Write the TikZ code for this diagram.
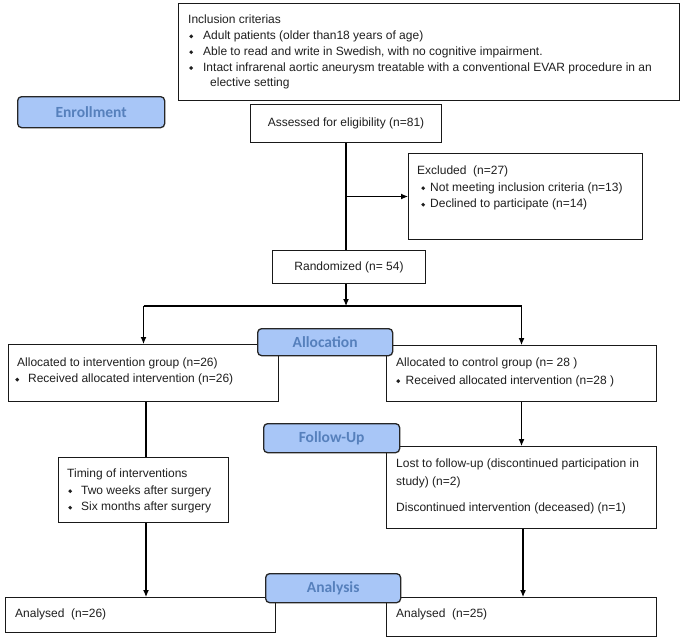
\documentclass[tikz,border=0pt]{standalone}
\usepackage{fontspec}
\setmainfont{Liberation Sans}
\newfontfamily\labfont{Carlito}
\usepackage{graphicx}
\usetikzlibrary{arrows.meta}
\definecolor{labfill}{RGB}{168,198,247}
\definecolor{labtext}{RGB}{86,128,188}
\newcommand{\bul}[2]{\hspace*{#1}\raisebox{1.1pt}{\rotatebox{45}{\rule{2.8pt}{2.8pt}}}\hspace*{#2}}
\begin{document}
\begin{tikzpicture}[x=1pt,y=-1pt,
 box/.style={draw=black!90, line width=1pt, fill=white, inner sep=0pt, anchor=north west, font=\fontsize{12}{14}\selectfont, text=black!88},
 lab/.style={draw=black!85, line width=1.3pt, fill=labfill, rounded corners=4pt, inner sep=0pt, anchor=north west, font=\labfont\bfseries\fontsize{15.5}{18}\selectfont, text=labtext},
 txt/.style={inner sep=0pt, anchor=north west, align=left, text=black!88},
 arr/.style={line width=1.1pt, -{Latex[length=7pt,width=6pt]}},
 ln/.style={line width=1.1pt}]
\useasboundingbox[fill=white] (0,0) rectangle (685,640);

% boxes
\node[box, minimum width=501pt, minimum height=97pt] (incl) at (178,3) {};
\node[box, minimum width=191pt, minimum height=38pt] (assess) at (250,104) {Assessed for eligibility (n=81)};
\node[box, minimum width=234pt, minimum height=86pt] (excl) at (408,153) {};
\node[box, minimum width=153pt, minimum height=33pt] (rand) at (272,250) {Randomized (n= 54)};
\node[box, minimum width=270pt, minimum height=57pt] (allocL) at (8,344) {};
\node[box, minimum width=270pt, minimum height=56pt] (allocR) at (386,345) {};
\node[box, minimum width=170pt, minimum height=65pt] (timing) at (58,457) {};
\node[box, minimum width=270pt, minimum height=82pt] (fuR) at (386,446) {};
\node[box, minimum width=270pt, minimum height=35pt] (anL) at (5,597) {};
\node[box, minimum width=270pt, minimum height=39pt] (anR) at (386,597) {};

% texts
\node[txt, font=\fontsize{12}{15.8}\selectfont] (inclT) at (188,12.4) {\strut Inclusion criterias\\
\bul{1pt}{10pt}Adult patients (older than18 years of age)\\
\bul{1pt}{10pt}Able to read and write in Swedish, with no cognitive impairment.\\
\bul{1pt}{10pt}Intact infrarenal aortic aneurysm treatable with a conventional EVAR procedure in an\\
\hspace*{22pt}elective setting};
\node[txt, font=\fontsize{12}{16.5}\selectfont] (exclT) at (417,163) {\strut Excluded\ \ (n=27)\\
\bul{4pt}{5pt}Not meeting inclusion criteria (n=13)\\
\bul{4pt}{5pt}Declined to participate (n=14)};
\node[txt, font=\fontsize{12}{16}\selectfont] (allocLT) at (17,355.3) {\strut Allocated to intervention group (n=26)\\
\bul{-2pt}{9pt}Received allocated intervention (n=26)};
\node[txt, font=\fontsize{12}{17.5}\selectfont] (allocRT) at (396,354.25) {\strut Allocated to control group (n= 28 )\\
\bul{0pt}{5.5pt}Received allocated intervention (n=28 )};
\node[txt, font=\fontsize{12}{16.5}\selectfont] (timingT) at (67,466) {\strut Timing of interventions\\
\bul{1pt}{9pt}Two weeks after surgery\\
\bul{1pt}{9pt}Six months after surgery};
\node[txt, font=\fontsize{12}{18}\selectfont] (fuRT) at (396,454.9) {\strut Lost to follow-up (discontinued participation in\\
study) (n=2)\\[8pt]
Discontinued intervention (deceased) (n=1)};
\node[txt, anchor=base west, font=\fontsize{12}{14}\selectfont] (anLT) at (15,617.5) {Analysed\ \ (n=26)};
\node[txt, anchor=base west, font=\fontsize{12}{14}\selectfont] (anRT) at (396,617.5) {Analysed\ \ (n=25)};

% connectors
\coordinate (sL) at (allocL.north |- 0,306);
\coordinate (sR) at (allocR.north |- 0,306);
\coordinate (mid) at (346,306);
\draw[ln] (346,0 |- assess.south) coordinate (aS) -- (aS |- rand.north);
\draw[arr] (aS |- excl.west) -- (excl.west);
\draw[arr] (mid |- rand.south) -- (mid);
\draw[ln] (sL) -- (sR);
\draw[arr] (sL) -- (allocL.north);
\draw[arr] (sR) -- (allocR.north);
\draw[ln] (146,0 |- allocL.south) coordinate (lS) -- (lS |- timing.north);
\draw[arr] (lS |- timing.south) -- (lS |- anL.north);
\draw[arr] (allocR.south) -- (fuR.north);
\draw[arr] (523,0 |- fuR.south) coordinate (rS) -- (rS |- anR.north);

% phase labels
\node[lab, minimum width=147pt, minimum height=31pt] (enr) at (17,96) {Enrollment};
\node[lab, minimum width=135pt, minimum height=27pt] (allocLab) at (257,328) {Allocation};
\node[lab, minimum width=136pt, minimum height=29pt] (fuLab) at (263,423) {Follow-Up};
\node[lab, minimum width=135pt, minimum height=29pt] (anLab) at (265,573) {Analysis};
\end{tikzpicture}
\end{document}
